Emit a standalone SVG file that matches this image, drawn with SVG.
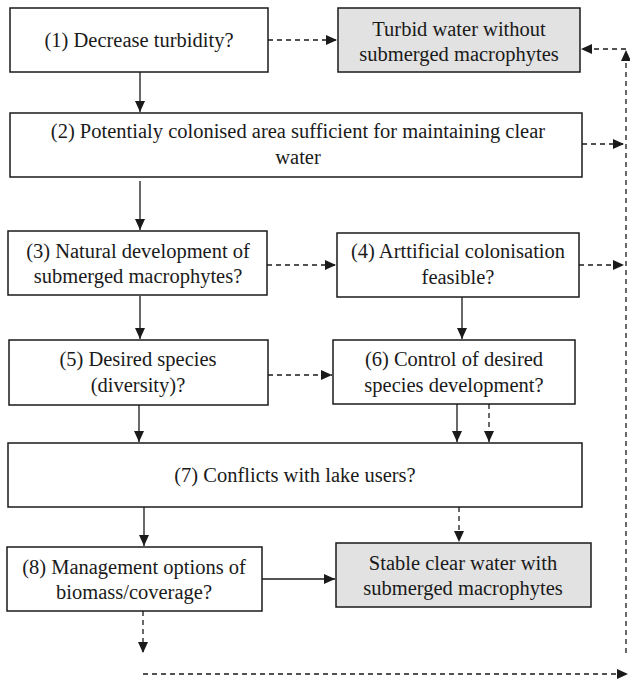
<svg xmlns="http://www.w3.org/2000/svg" width="630" height="680" viewBox="0 0 630 680">
<defs>
<marker id="ah" markerUnits="userSpaceOnUse" markerWidth="12" markerHeight="10" refX="11" refY="5" orient="auto">
<path d="M0,0 L11,5 L0,10 Z" fill="#1a1a1a"/>
</marker>
<style>
.box{fill:#fff;stroke:#1a1a1a;stroke-width:1.5}
.gray{fill:#e2e2e2;stroke:#1a1a1a;stroke-width:1.5}
.t{font-family:"Liberation Serif","Times New Roman",serif;font-size:20.5px;fill:#1a1a1a;text-anchor:middle}
.s{fill:none;stroke:#1a1a1a;stroke-width:1.3;marker-end:url(#ah)}
.d{fill:none;stroke:#1a1a1a;stroke-width:1.3;stroke-dasharray:5,4;marker-end:url(#ah)}
</style>
</defs>
<g id="connectors">
<path class="d" d="M268,40 H337"/>
<path class="s" d="M140,72 V112"/>
<path class="d" d="M582,144 H624"/>
<path class="s" d="M140,181 V230"/>
<path class="d" d="M267,265 H336"/>
<path class="d" d="M579,265 H624"/>
<path class="s" d="M140,296 V339"/>
<path class="s" d="M462,297 V339"/>
<path class="d" d="M268,375 H332"/>
<path class="s" d="M139,405 V442"/>
<path class="s" d="M457,404 V442"/>
<path class="d" d="M489,404 V442"/>
<path class="s" d="M144,507 V546"/>
<path class="d" d="M459,507 V542"/>
<path class="s" d="M262,579 H335"/>
<path class="d" d="M143,611 V653"/>
<path class="d" d="M143,674 H628"/>
<path class="d" d="M626,653 V50"/>
<path class="d" d="M626,49 H581"/>
</g>
<g id="n1"><rect class="box" x="10" y="8" width="258" height="64"/><text class="t" x="139" y="47">(1) Decrease turbidity?</text></g>
<g id="turbid"><rect class="gray" x="338" y="8" width="242" height="64"/><text class="t" x="459" y="36">Turbid water without</text><text class="t" x="459" y="61">submerged macrophytes</text></g>
<g id="n2"><rect class="box" x="10" y="113" width="572" height="64"/><text class="t" x="298" y="138">(2) Potentialy colonised area sufficient for maintaining clear</text><text class="t" x="298" y="164">water</text></g>
<g id="n3"><rect class="box" x="8" y="231" width="259" height="64"/><text class="t" x="138" y="258">(3) Natural development of</text><text class="t" x="138" y="283">submerged macrophytes?</text></g>
<g id="n4"><rect class="box" x="337" y="233" width="242" height="64"/><text class="t" x="458" y="258">(4) Arttificial colonisation</text><text class="t" x="458" y="284">feasible?</text></g>
<g id="n5"><rect class="box" x="9" y="340" width="259" height="65"/><text class="t" x="138" y="366">(5) Desired species</text><text class="t" x="138" y="392">(diversity)?</text></g>
<g id="n6"><rect class="box" x="333" y="340" width="242" height="64"/><text class="t" x="454" y="366">(6) Control of desired</text><text class="t" x="454" y="392">species development?</text></g>
<g id="n7"><rect class="box" x="8" y="443" width="574" height="64"/><text class="t" x="295" y="482">(7) Conflicts with lake users?</text></g>
<g id="n8"><rect class="box" x="7" y="547" width="255" height="64"/><text class="t" x="134" y="574">(8) Management options of</text><text class="t" x="134" y="599">biomass/coverage?</text></g>
<g id="stable"><rect class="gray" x="336" y="543" width="255" height="64"/><text class="t" x="463" y="570">Stable clear water with</text><text class="t" x="463" y="595">submerged macrophytes</text></g>
</svg>
